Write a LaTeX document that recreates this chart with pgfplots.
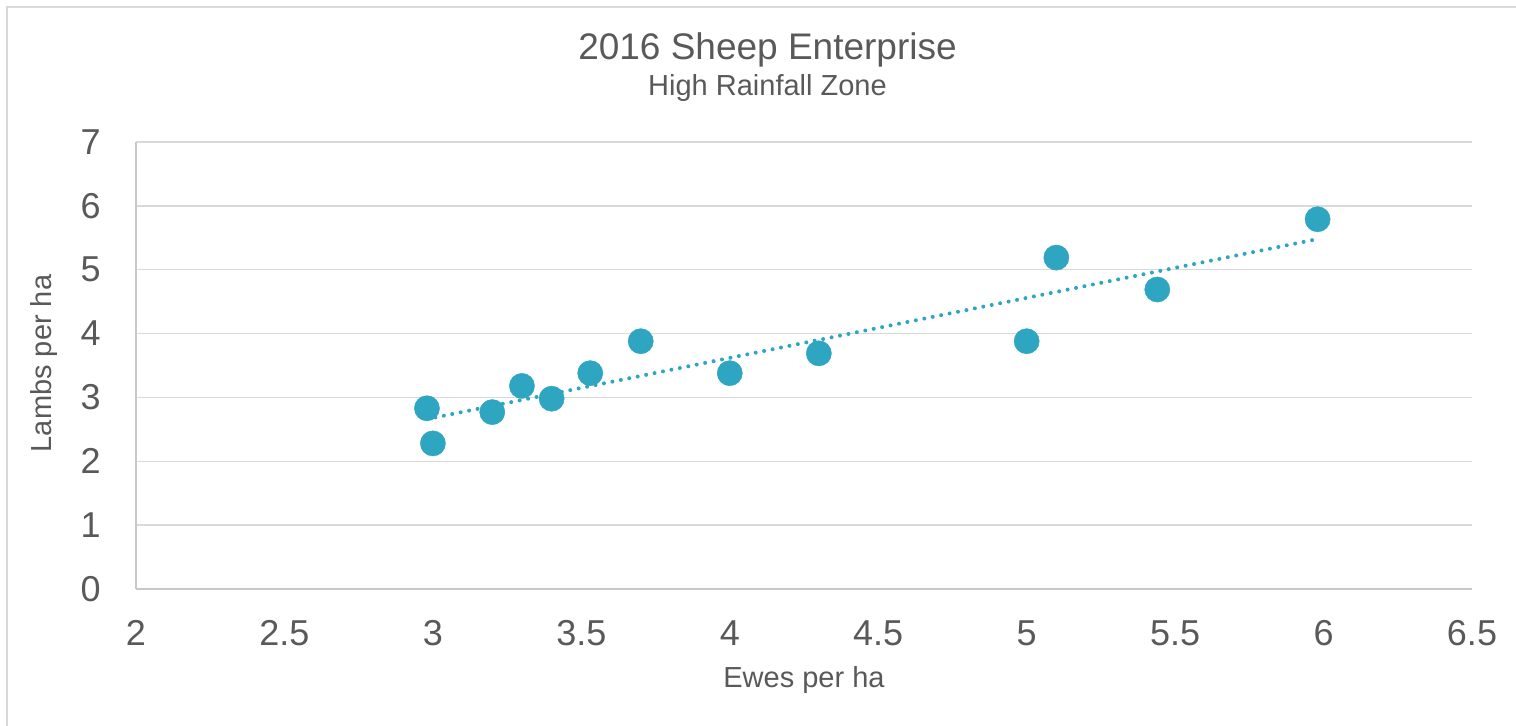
\documentclass[border=0pt]{standalone}
\usepackage{pgfplots}
\pgfplotsset{compat=1.18}
\usepackage{fontspec}
\setmainfont{Liberation Sans}
\definecolor{txt}{HTML}{595959}
\definecolor{gridc}{HTML}{D9D9D9}
\definecolor{axc}{HTML}{C8C8C8}
\definecolor{teal}{HTML}{2EA5C1}
\begin{document}
\begin{tikzpicture}
\useasboundingbox (-68pt,-68.5pt) rectangle (690pt,294.5pt);
\draw[gridc, line width=1pt] (-64.5pt,-70pt) -- (-64.5pt,291pt) -- (700pt,291pt);
\begin{axis}[
  at={(0,0)}, anchor=south west,
  scale only axis, width=668pt, height=223.5pt,
  xmin=2, xmax=6.5, ymin=0, ymax=7,
  xtick={2,2.5,3,3.5,4,4.5,5,5.5,6,6.5},
  ytick={0,1,2,3,4,5,6,7},
  axis x line*=bottom, axis y line*=left,
  axis line style={-, draw=axc, line width=0.75pt},
  ymajorgrids, grid style={draw=gridc, line width=0.75pt},
  tick style={draw=none},
  /pgf/number format/assume math mode=true,
  ticklabel style={font=\fontsize{18}{20}\selectfont, text=txt},
  xticklabel style={anchor=center, inner sep=0pt, yshift=-22pt},
  yticklabel style={anchor=east, inner sep=0pt, xshift=-17.5pt},
  clip=false,
]
\addplot[teal, line width=2pt, dash pattern=on 0pt off 4.3pt, line cap=round] coordinates {(2.98,2.66) (5.98,5.48)};
\addplot[only marks, mark=*, mark size=6.3pt, mark options={fill=teal, draw=teal, line width=0.2pt}] coordinates {
(2.98,2.83) (3.00,2.28) (3.20,2.77) (3.30,3.18) (3.40,2.98) (3.53,3.38) (3.70,3.88)
(4.00,3.38) (4.30,3.69) (5.00,3.88) (5.10,5.19) (5.44,4.69) (5.98,5.79)};
\end{axis}
\node[anchor=base, text=txt, font=\fontsize{18.5}{20}\selectfont] at (315.75pt,264.5pt) {2016 Sheep Enterprise};
\node[anchor=base, text=txt, font=\fontsize{14.5}{16}\selectfont] at (315.75pt,246.5pt) {High Rainfall Zone};
\node[anchor=base, text=txt, font=\fontsize{14.5}{16}\selectfont] at (334pt,-49.5pt) {Ewes per ha};
\node[anchor=base, rotate=90, text=txt, font=\fontsize{14.5}{16}\selectfont] at (-42.2pt,112.75pt) {Lambs per ha};
\end{tikzpicture}
\end{document}
